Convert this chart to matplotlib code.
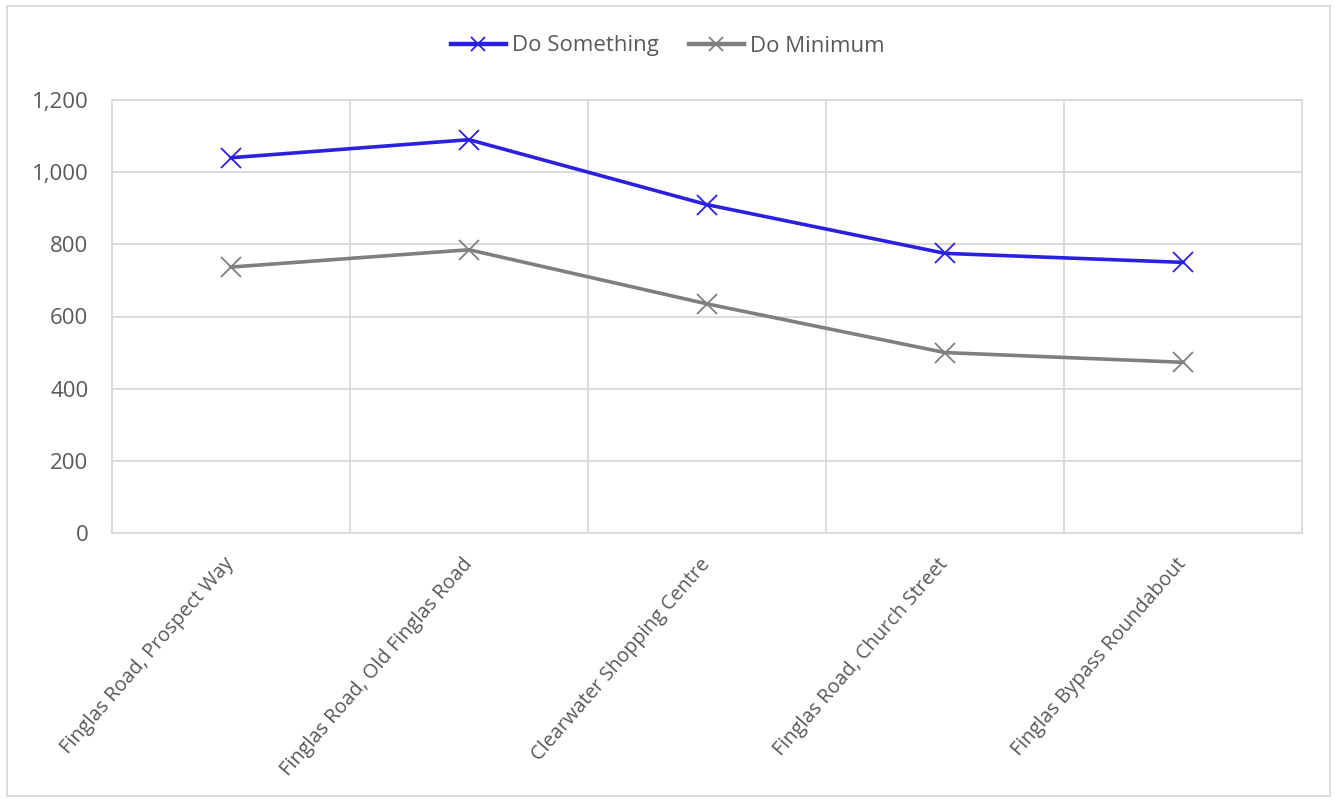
import matplotlib
matplotlib.use("Agg")
import matplotlib.pyplot as plt
from matplotlib.patches import Rectangle

categories = ["Finglas Road, Prospect Way", "Finglas Road, Old Finglas Road",
              "Clearwater Shopping Centre", "Finglas Road, Church Street",
              "Finglas Bypass Roundabout"]
do_something = [1040, 1090, 910, 775, 750]
do_minimum = [737, 785, 635, 500, 473]
yticks = [0, 200, 400, 600, 800, 1000, 1200]

plt.rcParams['font.family'] = ['Open Sans', 'DejaVu Sans']

fig = plt.figure(figsize=(13.35, 8.01), dpi=100)
ax = fig.add_axes([112/1335, 1-533/801, (1302-112)/1335, (533-100)/801])

x = list(range(len(categories)))
ax.plot(x, do_something, color="#2B1FE0", lw=2.6, marker="x", ms=15, mew=1.3,
        label="Do Something")
ax.plot(x, do_minimum, color="#7F7F7F", lw=2.6, marker="x", ms=15, mew=1.3,
        label="Do Minimum")

ax.set_xlim(-0.5, len(categories) - 0.5)
ax.set_ylim(0, 1200)
ax.set_yticks(yticks)
ax.set_yticklabels([f"{v:,}" for v in yticks])
ax.set_xticks([i + 0.5 for i in range(len(categories) - 1)], minor=False)
ax.set_xticklabels([])
ax.set_xticks(x, minor=True)
ax.set_xticklabels(categories, minor=True, rotation=49, ha="right", va="center",
                   rotation_mode="anchor", fontsize=14.3, color="#595959")
ax.tick_params(axis="x", which="both", length=0)
ax.tick_params(axis="x", which="minor", pad=20)
ax.tick_params(axis="y", length=0, labelsize=16, labelcolor="#595959", pad=17)
ax.grid(True, axis="both", which="major", color="#D9D9D9", lw=1.3)
ax.set_axisbelow(True)
for s in ax.spines.values():
    s.set_color("#D9D9D9")
    s.set_linewidth(1.3)

leg = fig.legend(loc="center", bbox_to_anchor=(0.5, 1-46/801), ncol=2, frameon=False,
                 fontsize=16, handlelength=2.5, columnspacing=1.35, handletextpad=0.25)
for t in leg.get_texts():
    t.set_color("#595959")
for h in leg.legend_handles:
    h.set_markersize(10)
    h.set_linewidth(3.2)

fig.patches.append(Rectangle((7/1335, 5/801), 1323/1335, 790/801, transform=fig.transFigure,
                             fill=False, edgecolor="#D9D9D9", lw=1.3))

fig.savefig("out.png", dpi=100)
